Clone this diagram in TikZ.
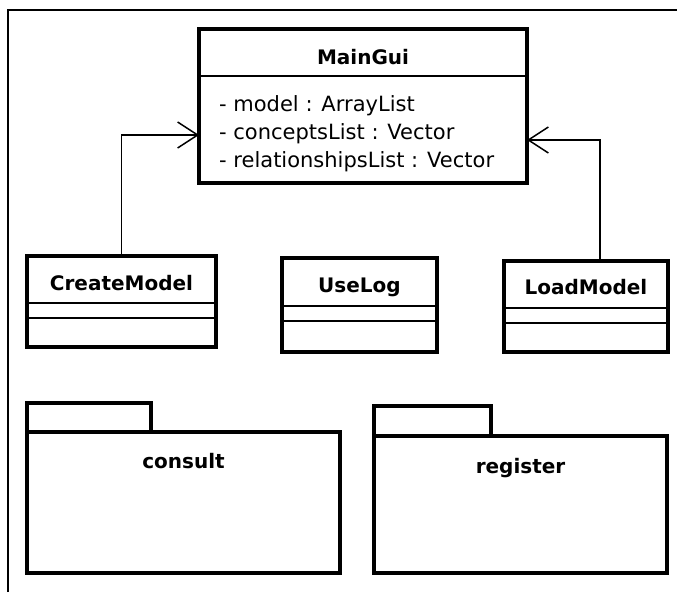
\documentclass[tikz,border=0pt]{standalone}
\usepackage{fontspec}
\newfontfamily\umlfont{DejaVu Sans}
\usetikzlibrary{arrows.meta}
\tikzstyle{classBox} = [rectangle, draw=black, line width=3.5pt, fill=white, inner sep=0pt, outer sep=0pt]
\tikzstyle{className} = [font={\umlfont\fontsize{20}{23}\selectfont\bfseries}, inner sep=0pt, anchor=base]
\tikzstyle{attrText} = [font={\umlfont\fontsize{21}{28}\selectfont}, inner sep=0pt, anchor=base west]
\tikzstyle{separator} = [line width=1.6pt]
\tikzstyle{packageBox} = [rectangle, draw=black, line width=3.5pt, fill=white, inner sep=0pt, outer sep=0pt]
\tikzstyle{arrow} = [line width=1.3pt, -{Straight Barb[length=20pt,width=26pt,line width=1.5pt]}]

\begin{document}
\begin{tikzpicture}[x=1pt, y=1pt]
\useasboundingbox (0,0) rectangle (677,-592);
\draw [line width=2pt] (8,-592) -- (8,-10) -- (677,-10);

% main class
\node (maingui) [classBox, minimum width=328pt, minimum height=154pt] at (363,-106) {};
\node (mainguititle) [className] at ([yshift=-35pt]maingui.north) {MainGui};
\draw [separator] ([yshift=-47pt]maingui.north west) -- ([yshift=-47pt]maingui.north east);
\node (attrmodel) [attrText] at ([xshift=20pt,yshift=-82pt]maingui.north west) {- model : ArrayList};
\node (attrconcepts) [attrText] at ([xshift=20pt,yshift=-110pt]maingui.north west) {- conceptsList : Vector};
\node (attrrelations) [attrText] at ([xshift=20pt,yshift=-138pt]maingui.north west) {- relationshipsList : Vector};

% classes below
\node (createmodel) [classBox, minimum width=189pt, minimum height=91pt] at (121.5,-301.5) {};
\node (createmodeltitle) [className] at ([yshift=-34pt]createmodel.north) {CreateModel};
\draw [separator] ([yshift=-47pt]createmodel.north west) -- ([yshift=-47pt]createmodel.north east);
\draw [separator] ([yshift=-62pt]createmodel.north west) -- ([yshift=-62pt]createmodel.north east);

\node (uselog) [classBox, minimum width=155pt, minimum height=94pt] at (359.5,-305) {};
\node (uselogtitle) [className] at ([yshift=-34pt]uselog.north) {UseLog};
\draw [separator] ([yshift=-48pt]uselog.north west) -- ([yshift=-48pt]uselog.north east);
\draw [separator] ([yshift=-63pt]uselog.north west) -- ([yshift=-63pt]uselog.north east);

\node (loadmodel) [classBox, minimum width=164pt, minimum height=91pt] at (586,-306.5) {};
\node (loadmodeltitle) [className] at ([yshift=-33pt]loadmodel.north) {LoadModel};
\draw [separator] ([yshift=-47pt]loadmodel.north west) -- ([yshift=-47pt]loadmodel.north east);
\draw [separator] ([yshift=-62pt]loadmodel.north west) -- ([yshift=-62pt]loadmodel.north east);

\draw [arrow] (createmodel.north) |- ([yshift=-29pt]maingui.west);
\draw [arrow] ([xshift=14pt]loadmodel.north) |- ([yshift=-34pt]maingui.east);

% packages
\node (consult) [packageBox, minimum width=313pt, minimum height=141pt] at (183.5,-502.5) {};
\node (consulttab) [packageBox, minimum width=124pt, minimum height=29pt, anchor=south west] at (consult.north west) {};
\node (consultlabel) [className] at ([yshift=-36pt]consult.north) {consult};

\node (register) [packageBox, minimum width=293pt, minimum height=137pt] at (520.5,-504.5) {};
\node (registertab) [packageBox, minimum width=117pt, minimum height=30pt, anchor=south west] at (register.north west) {};
\node (registerlabel) [className] at ([yshift=-37pt]register.north) {register};

\end{tikzpicture}
\end{document}
